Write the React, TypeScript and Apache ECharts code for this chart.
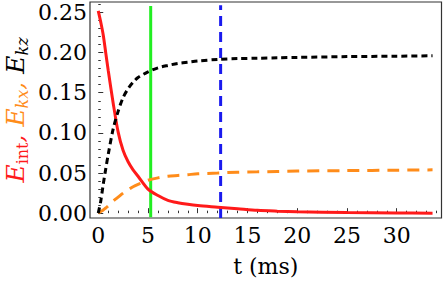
import React, { useEffect, useRef } from "react";
import * as echarts from "echarts";

const tValues = [0, 0.25, 0.5, 0.75, 1, 1.5, 2, 2.5, 3, 3.5, 4, 5, 6, 7, 8, 9, 10, 12, 14, 16, 18, 20, 25, 30, 33.6];
const eInt = [0.252, 0.238, 0.222, 0.2, 0.178, 0.137, 0.101, 0.078, 0.064, 0.054, 0.046, 0.03, 0.022, 0.016, 0.013, 0.011, 0.0095, 0.0075, 0.0055, 0.0035, 0.0025, 0.0018, 0.0008, 0.0003, 0.0];
const eKx = [0, 0.002, 0.004, 0.0065, 0.009, 0.015, 0.02, 0.025, 0.029, 0.033, 0.036, 0.041, 0.044, 0.046, 0.047, 0.048, 0.049, 0.05, 0.051, 0.0515, 0.052, 0.0525, 0.053, 0.0535, 0.054];
const eKz = [0, 0.015, 0.036, 0.055, 0.073, 0.105, 0.127, 0.144, 0.155, 0.163, 0.169, 0.176, 0.181, 0.184, 0.1865, 0.188, 0.1895, 0.1915, 0.1925, 0.193, 0.1935, 0.194, 0.195, 0.1955, 0.196];
const greenT = 5.27;
const blueT = 12.3;
const xMajor = [0, 5, 10, 15, 20, 25, 30];
const xMinor = Array.from({ length: 35 }, (_, i) => i).filter((v) => v % 5 !== 0);
const yMajor = [0, 0.05, 0.1, 0.15, 0.2, 0.25];
const yMinor = Array.from({ length: 27 }, (_, i) => i / 100).filter((_, i) => i % 5 !== 0);

const X_MIN = -0.83;
const X_MAX = 34.5;
const Y_MIN = -0.006;
const Y_MAX = 0.263;

const FONT = "DejaVu Serif";

export default function App() {
  const ref = useRef<HTMLDivElement>(null);
  useEffect(() => {
    if (!ref.current) return;
    const chart = echarts.init(ref.current, null, { renderer: "svg" });
    const pair = (ys: number[]) => tValues.map((t, i) => [t, ys[i]]);
    const xBase = { type: "value", min: X_MIN, max: X_MAX, splitLine: { show: false }, axisLine: { show: false } };
    const yBase = { type: "value", min: Y_MIN, max: Y_MAX, splitLine: { show: false }, axisLine: { show: false } };
    chart.setOption({
      animation: false,
      backgroundColor: "#ffffff",
      textStyle: { fontFamily: FONT },
      grid: { left: 90, right: 1.5, top: 2, bottom: 67, show: true, borderColor: "#333", borderWidth: 1.2, backgroundColor: "transparent" },
      xAxis: [
        {
          ...xBase,
          position: "bottom",
          name: "t (ms)",
          nameLocation: "middle",
          nameGap: 37,
          nameTextStyle: { fontFamily: FONT, fontSize: 22, color: "#000" },
          axisTick: { show: true, inside: true, length: 5, customValues: xMajor, lineStyle: { color: "#333" } },
          axisLabel: { show: true, customValues: xMajor, fontFamily: FONT, fontSize: 22, color: "#000", margin: 6 },
        },
        {
          ...xBase,
          position: "bottom",
          axisTick: { show: true, inside: true, length: 2.5, customValues: xMinor, lineStyle: { color: "#333" } },
          axisLabel: { show: false },
        },
      ],
      yAxis: [
        {
          ...yBase,
          position: "left",
          axisTick: { show: true, inside: true, length: 5, customValues: yMajor, lineStyle: { color: "#333" } },
          axisLabel: { show: true, customValues: yMajor, fontFamily: FONT, fontSize: 22, color: "#000", margin: 3, formatter: (v: number) => v.toFixed(2) },
        },
        {
          ...yBase,
          position: "left",
          axisTick: { show: true, inside: true, length: 2.5, customValues: yMinor, lineStyle: { color: "#333" } },
          axisLabel: { show: false },
        },
      ],
      graphic: [
        {
          type: "text",
          x: 15,
          y: 110,
          rotation: Math.PI / 2,
          style: {
            text: "{r|E}{rs|int}{r|, }{o|E}{os|kx}{o|, }{k|E}{ks|kz}",
            align: "center",
            verticalAlign: "middle",
            fontFamily: FONT,
            rich: {
              r: { fill: "#ff1a1a", fontFamily: FONT, fontStyle: "italic", fontSize: 25, lineHeight: 30 },
              rs: { fill: "#ff1a1a", fontFamily: FONT, fontSize: 16, lineHeight: 14, padding: [10, 0, 0, 0], verticalAlign: "bottom" },
              o: { fill: "#ff8c1a", fontFamily: FONT, fontStyle: "italic", fontSize: 25, lineHeight: 30 },
              os: { fill: "#ff8c1a", fontFamily: FONT, fontStyle: "italic", fontSize: 16, lineHeight: 14, padding: [10, 0, 0, 0], verticalAlign: "bottom" },
              k: { fill: "#000", fontFamily: FONT, fontStyle: "italic", fontSize: 25, lineHeight: 30 },
              ks: { fill: "#000", fontFamily: FONT, fontStyle: "italic", fontSize: 16, lineHeight: 14, padding: [10, 0, 0, 0], verticalAlign: "bottom" },
            },
          },
        },
      ],
      series: [
        {
          type: "line",
          data: [[greenT, -0.005], [greenT, 0.258]],
          symbol: "none",
          lineStyle: { color: "#22ee22", width: 3 },
          z: 1,
        },
        {
          type: "line",
          data: [[blueT, -0.006], [blueT, 0.259]],
          symbol: "none",
          lineStyle: { color: "#1a1aee", width: 3, type: [10, 6] },
          z: 1,
        },
        {
          type: "line",
          data: pair(eInt),
          symbol: "none",
          smooth: 0.3,
          lineStyle: { color: "#ff1a1a", width: 3 },
          z: 3,
        },
        {
          type: "line",
          data: pair(eKx),
          symbol: "none",
          smooth: 0.3,
          lineStyle: { color: "#ff8c1a", width: 3, type: [12, 8] },
          z: 3,
        },
        {
          type: "line",
          data: pair(eKz),
          symbol: "none",
          smooth: 0.3,
          lineStyle: { color: "#000", width: 3, type: [6, 4] },
          z: 3,
        },
      ],
    });
    return () => chart.dispose();
  }, []);
  return <div ref={ref} style={{ position: "fixed", left: 0, top: 0, width: 443, height: 285 }} />;
}
